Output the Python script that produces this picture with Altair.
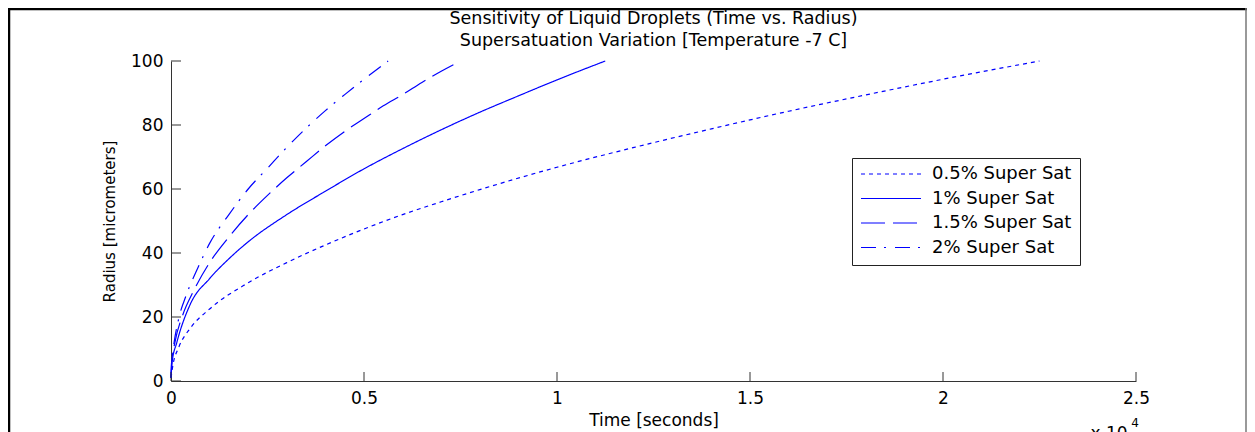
import altair as alt
import pandas as pd

# ---- data (time in seconds, radius in micrometers)
series_names = ["0.5% Super Sat", "1% Super Sat", "1.5% Super Sat", "2% Super Sat"]

t_05 = [0, 50, 200, 500, 1000, 2000, 3000, 4000, 5000, 6000, 7000, 8000,
        10000, 12000, 14000, 16000, 18000, 20000, 22500]
r_05 = [1, 5, 10.5, 16.5, 22.5, 30.7, 37, 42.5, 47.5, 52, 56, 59.8,
        66.8, 73, 78.8, 84.3, 89.4, 94.3, 100]

t_10 = [0, 30, 150, 500, 1000, 1500, 2000, 3000, 4000, 5000, 6000, 7000, 8000,
        9000, 10000, 11250]
r_10 = [1, 6, 12, 24, 32, 38.2, 43.5, 52, 59.3, 66.3, 72.6, 78.5, 84, 89.1, 94.1, 100]

t_15 = [0, 20, 100, 300, 600, 1000, 1500, 2000, 2500, 3000, 3500, 4000,
        4500, 5000, 5500, 6000, 6500, 7000, 7500]
r_15 = [1, 6, 12, 20.5, 28.5, 37, 45, 52, 58, 63.5, 68.5, 73.5,
        78, 82, 86, 89.5, 93.3, 96.8, 100]

t_20 = [0, 15, 80, 200, 400, 700, 1000, 1500, 2000, 2500, 3000, 3500,
        4000, 4500, 5000, 5625]
r_20 = [1, 6, 12, 19.5, 27, 35.5, 43, 52, 60, 66.5, 73, 79,
        84.5, 89.5, 94.3, 100]

x_tick_values = [0, 5000, 10000, 15000, 20000, 25000]
y_tick_values = [0, 20, 40, 60, 80, 100]

title_lines = ["Sensitivity of Liquid Droplets (Time vs. Radius)",
               "Supersatuation Variation [Temperature -7 C]"]
x_title = "Time [seconds]"
y_title = "Radius [micrometers]"

dash_styles = [[4, 4], [1, 0], [24, 8], [15, 8, 2, 9]]

# ---- build the long table
rows = []
for name, ts, rs in zip(series_names, [t_05, t_10, t_15, t_20], [r_05, r_10, r_15, r_20]):
    for t, r in zip(ts, rs):
        rows.append({"series": name, "t": t, "r": r})
df = pd.DataFrame(rows)

FONT = "DejaVu Sans"
BLUE = "#0000ff"
W, H = 965, 320
PAD = {"left": 163, "top": 53, "right": 111, "bottom": 56}

x_scale = alt.Scale(domain=[0, 25000], nice=False, zero=False)
y_scale = alt.Scale(domain=[0, 100], nice=False)

x_axis = alt.Axis(values=x_tick_values, ticks=False, tickSize=0, grid=False,
                  labelExpr="format(datum.value / 10000, '~g')",
                  labelFontSize=17, labelFont=FONT, labelColor="#000",
                  labelPadding=9, titleFontSize=17, titleFont=FONT,
                  titleFontWeight="normal", titleColor="#000", titlePadding=6,
                  domainColor="#333", domainWidth=1, labelFlush=False)
y_axis = alt.Axis(values=y_tick_values, ticks=False, tickSize=0, grid=False,
                  labelFontSize=17, labelFont=FONT, labelColor="#000",
                  labelPadding=8, titleFontSize=15, titleFont=FONT,
                  titleFontWeight="normal", titleColor="#000", titlePadding=13,
                  domainColor="#333", domainWidth=1, labelFlush=False)

lines = alt.Chart(df).mark_line(color=BLUE, strokeWidth=1.2, interpolate="monotone").encode(
    x=alt.X("t:Q", scale=x_scale, title=x_title, axis=x_axis),
    y=alt.Y("r:Q", scale=y_scale, title=y_title, axis=y_axis),
    strokeDash=alt.StrokeDash(
        "series:N",
        scale=alt.Scale(domain=series_names, range=dash_styles),
        legend=alt.Legend(title=None, orient="none", legendX=681, legendY=97,
                          padding=8, strokeColor="#222", fillColor="#ffffff",
                          symbolType="stroke", symbolSize=3600, symbolStrokeWidth=1.2,
                          symbolStrokeColor=BLUE, labelFontSize=18, labelFont=FONT,
                          labelColor="#000", labelOffset=10, clipHeight=16,
                          rowPadding=6.5)),
)

ytick_df = pd.DataFrame({"r": y_tick_values})
xtick_df = pd.DataFrame({"t": x_tick_values})

yticks = alt.Chart(ytick_df).mark_rule(color="#333", strokeWidth=1).encode(
    y=alt.Y("r:Q", scale=y_scale, title=y_title, axis=y_axis),
    x=alt.value(0), x2=alt.value(10),
)
xticks = alt.Chart(xtick_df).mark_rule(color="#333", strokeWidth=1).encode(
    x=alt.X("t:Q", scale=x_scale, title=x_title, axis=x_axis),
    y=alt.value(H), y2=alt.value(H - 9),
)

one = pd.DataFrame({"k": [0]})
frame_top = alt.Chart(one).mark_rule(color="#000", strokeWidth=2.5).encode(
    x=alt.value(-PAD["left"]), x2=alt.value(W + PAD["right"]), y=alt.value(-52))
frame_left = alt.Chart(one).mark_rule(color="#000", strokeWidth=2.5).encode(
    x=alt.value(-162), y=alt.value(-PAD["top"]), y2=alt.value(H + PAD["bottom"]))
frame_right = alt.Chart(one).mark_rule(color="#777", strokeWidth=1.5).encode(
    x=alt.value(W + PAD["right"] - 1), y=alt.value(-PAD["top"]), y2=alt.value(H + PAD["bottom"]))

title1 = alt.Chart(one).mark_text(font=FONT, fontSize=17.5, color="#000",
                                  align="center", baseline="middle").encode(
    x=alt.value(W / 2), y=alt.value(-42.5), text=alt.value(title_lines[0]))
title2 = alt.Chart(one).mark_text(font=FONT, fontSize=17.5, color="#000",
                                  align="center", baseline="middle").encode(
    x=alt.value(W / 2), y=alt.value(-20.5), text=alt.value(title_lines[1]))

exp_base = alt.Chart(one).mark_text(font=FONT, fontSize=17, color="#000",
                                    align="center", baseline="top").encode(
    x=alt.value(938), y=alt.value(365), text=alt.value("x 10"))
exp_sup = alt.Chart(one).mark_text(font=FONT, fontSize=12, color="#000",
                                   align="center", baseline="top").encode(
    x=alt.value(964), y=alt.value(357), text=alt.value("4"))

chart = alt.layer(lines, yticks, xticks, frame_top, frame_left, frame_right,
                  title1, title2, exp_base, exp_sup).properties(
    width=W, height=H,
    autosize=alt.AutoSizeParams(type="none"),
    padding=PAD,
    background="#ffffff",
).configure_view(strokeWidth=0)

chart.save("out.html", embed_options={"renderer": "svg", "actions": False})
